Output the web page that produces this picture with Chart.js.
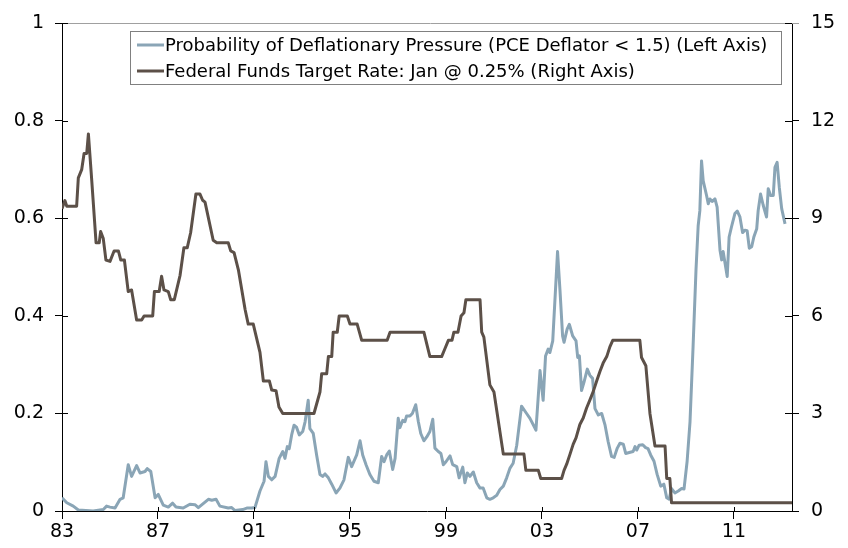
<!DOCTYPE html>
<html>
<head>
<meta charset="utf-8">
<script src="https://cdn.jsdelivr.net/npm/chart.js@4.4.0/dist/chart.umd.min.js"></script>
<style>
  html, body { margin: 0; padding: 0; background: #fff; }
  #wrap { width: 848px; height: 548px; }
</style>
</head>
<body>
<div id="wrap"><canvas id="chart" width="848" height="548"></canvas></div>
<script>
// ─── Data ────────────────────────────────────────────────────────
const PROB_LABEL = 'Probability of Deflationary Pressure (PCE Deflator < 1.5) (Left Axis)';
const FED_LABEL  = 'Federal Funds Target Rate: Jan @ 0.25% (Right Axis)';

const tickYears = [1983, 1987, 1991, 1995, 1999, 2003, 2007, 2011];

const probYears = [
  1983.00,1983.20,1983.47,1983.68,1984.30,1984.72,1984.86,1985.00,1985.21,1985.42,1985.55,1985.76,1985.90,1986.11,1986.25,1986.46,1986.55,1986.70,1986.88,
  1987.01,1987.22,1987.43,1987.61,1987.75,1988.05,1988.33,1988.54,1988.68,1989.10,1989.24,1989.42,1989.58,1989.93,1990.07,1990.21,1990.53,1990.70,1990.90,
  1991.04,1991.25,1991.42,1991.50,1991.60,1991.74,1991.88,1992.05,1992.20,1992.29,1992.39,1992.47,1992.57,1992.67,1992.77,1992.89,1993.03,1993.13,1993.26,1993.33,1993.47,1993.61,1993.75,1993.86,1993.96,1994.10,1994.24,1994.42,1994.58,1994.75,1994.93,
  1995.07,1995.28,1995.42,1995.53,1995.67,1995.83,1996.00,1996.18,1996.32,1996.42,1996.53,1996.64,1996.78,1996.88,1997.01,1997.08,1997.20,1997.29,1997.36,1997.50,1997.60,1997.74,1997.85,1997.95,1998.08,1998.20,1998.33,1998.45,1998.54,1998.68,1998.79,1998.89,
  1999.00,1999.17,1999.28,1999.45,1999.55,1999.70,1999.79,1999.89,2000.00,2000.14,2000.28,2000.42,2000.55,2000.70,2000.83,2000.97,2001.11,2001.25,2001.39,2001.53,2001.67,2001.80,2001.95,2002.15,2002.36,2002.50,2002.75,2002.92,
  2003.05,2003.15,2003.26,2003.33,2003.45,2003.65,2003.75,2003.86,2003.92,2004.05,2004.14,2004.28,2004.42,2004.49,2004.56,2004.65,2004.75,2004.89,2005.00,2005.11,2005.21,2005.35,2005.49,2005.63,2005.76,2005.90,2006.01,2006.14,2006.25,2006.39,2006.49,2006.64,2006.80,2006.88,2006.95,
  2007.05,2007.20,2007.32,2007.42,2007.53,2007.67,2007.80,2007.95,2008.08,2008.20,2008.30,2008.40,2008.54,2008.68,2008.82,2008.92,2009.05,2009.17,2009.30,2009.42,2009.51,2009.58,2009.65,2009.72,2009.86,2009.93,2010.00,2010.10,2010.21,2010.30,2010.42,2010.49,2010.55,2010.63,2010.72,2010.80,2010.90,
  2011.04,2011.14,2011.25,2011.36,2011.46,2011.55,2011.64,2011.74,2011.83,2011.95,2012.01,2012.11,2012.22,2012.36,2012.43,2012.53,2012.64,2012.71,2012.80,2012.89,2012.99,2013.13
];
const probValues = [
  0.027,0.017,0.010,0.002,0.000,0.003,0.010,0.008,0.006,0.024,0.027,0.095,0.071,0.093,0.078,0.081,0.087,0.081,0.027,
  0.034,0.012,0.008,0.016,0.008,0.006,0.014,0.013,0.007,0.024,0.022,0.024,0.010,0.006,0.007,0.001,0.003,0.006,0.006,
  0.007,0.041,0.061,0.101,0.071,0.064,0.071,0.108,0.122,0.108,0.132,0.128,0.156,0.176,0.172,0.156,0.163,0.183,0.227,0.169,0.159,0.115,0.075,0.071,0.076,0.068,0.055,0.037,0.047,0.064,0.110,
  0.091,0.115,0.144,0.115,0.095,0.075,0.061,0.058,0.112,0.101,0.115,0.123,0.085,0.108,0.190,0.171,0.186,0.183,0.195,0.195,0.200,0.218,0.183,0.159,0.144,0.152,0.163,0.188,0.129,0.122,0.118,0.095,
  0.101,0.113,0.095,0.091,0.068,0.090,0.058,0.078,0.071,0.080,0.058,0.047,0.047,0.027,0.024,0.027,0.032,0.044,0.051,0.068,0.088,0.098,0.135,0.215,0.200,0.190,0.166,0.288,
  0.227,0.318,0.332,0.325,0.349,0.532,0.454,0.359,0.346,0.373,0.383,0.359,0.349,0.315,0.318,0.247,0.264,0.291,0.278,0.272,0.210,0.197,0.200,0.176,0.142,0.112,0.110,0.129,0.139,0.137,0.118,0.120,0.122,0.132,0.125,
  0.135,0.136,0.130,0.128,0.115,0.102,0.075,0.051,0.055,0.027,0.024,0.046,0.037,0.041,0.046,0.045,0.102,0.183,0.340,0.495,0.585,0.616,0.718,0.677,0.647,0.630,0.640,0.635,0.640,0.623,0.535,0.515,0.532,0.508,0.481,0.562,0.583,
  0.610,0.615,0.603,0.571,0.576,0.575,0.539,0.542,0.562,0.579,0.616,0.650,0.627,0.603,0.661,0.647,0.647,0.705,0.715,0.664,0.620,0.589
];

const fedYears = [
  1983.00,1983.12,1983.20,1983.61,1983.68,1983.82,1983.92,1984.03,1984.10,1984.24,1984.42,1984.55,1984.61,1984.72,1984.83,1985.00,1985.17,1985.35,1985.45,1985.60,1985.76,1985.90,1986.11,1986.32,1986.42,1986.78,1986.85,
  1987.05,1987.15,1987.25,1987.43,1987.53,1987.68,1987.92,1988.08,1988.22,1988.36,1988.58,1988.75,1988.86,1988.96,1989.30,1989.45,1989.93,1990.03,1990.17,1990.35,1990.63,1990.76,1990.97,
  1991.25,1991.39,1991.64,1991.74,1991.92,1992.04,1992.20,1993.50,1993.75,1993.82,1994.03,1994.10,1994.24,1994.30,1994.47,1994.55,1994.89,
  1995.00,1995.30,1995.49,1996.55,1996.67,1998.08,1998.33,1998.82,1998.96,1999.10,1999.25,1999.33,1999.50,1999.63,1999.75,1999.83,2000.42,2000.49,2000.58,2000.83,2001.00,2001.39,2002.25,2002.33,2002.85,2002.95,
  2003.82,2003.92,2004.03,2004.17,2004.30,2004.42,2004.58,2004.72,2004.86,2005.00,2005.14,2005.28,2005.42,2005.55,2005.70,2005.83,2005.95,2007.08,2007.15,2007.33,2007.50,2007.71,2008.13,2008.20,2008.33,2008.40,2013.42
];
const fedRates = [
  9.30,9.55,9.375,9.375,10.25,10.5,11.0,11.0,11.6,10.16,8.25,8.25,8.6,8.38,7.72,7.68,8.0,8.0,7.72,7.72,6.75,6.8,5.875,5.875,6.0,6.0,6.75,
  6.75,7.22,6.8,6.75,6.5,6.5,7.25,8.1,8.1,8.56,9.75,9.75,9.56,9.5,8.33,8.25,8.25,8.0,7.95,7.42,6.2,5.75,5.75,
  4.88,4.0,4.0,3.72,3.7,3.2,3.0,3.0,3.66,4.22,4.22,4.75,4.75,5.5,5.5,6.0,6.0,
  5.75,5.75,5.25,5.25,5.5,5.5,4.75,4.75,5.0,5.25,5.25,5.5,5.5,6.0,6.1,6.5,6.5,5.5,5.35,3.88,3.66,1.75,1.75,1.25,1.25,1.0,
  1.0,1.25,1.44,1.75,2.05,2.25,2.66,2.86,3.17,3.42,3.68,4.0,4.3,4.55,4.75,5.05,5.25,5.25,4.72,4.47,3.0,2.0,2.0,1.0,1.0,0.25,0.25
];

// ─── Plugins ─────────────────────────────────────────────────────
const frame = {
  id: 'frame',
  afterDraw(chart) {
    const { ctx, chartArea: a } = chart;
    const { x, y, y1 } = chart.scales;
    ctx.save();
    ctx.lineWidth = 1;
    // top edge
    ctx.strokeStyle = '#a0a0a0';
    ctx.beginPath();
    ctx.moveTo(a.left, Math.round(a.top) + 0.5);
    ctx.lineTo(a.right + 7, Math.round(a.top) + 0.5);
    ctx.stroke();
    // inner halves of the ticks (ticks cross the axis lines)
    ctx.strokeStyle = '#000';
    ctx.beginPath();
    y.ticks.forEach((t, i) => {
      const py = Math.round(y.getPixelForTick(i)) + 0.5;
      ctx.moveTo(a.left, py); ctx.lineTo(a.left + 6, py);
    });
    y1.ticks.forEach((t, i) => {
      const py = Math.round(y1.getPixelForTick(i)) + 0.5;
      ctx.moveTo(a.right, py); ctx.lineTo(a.right - 7, py);
    });
    x.ticks.forEach((t, i) => {
      const px = Math.round(x.getPixelForTick(i)) + 0.5;
      ctx.moveTo(px, a.bottom); ctx.lineTo(px, a.bottom - 4);
    });
    ctx.stroke();
    ctx.restore();
  }
};

const boxLegend = {
  id: 'boxLegend',
  afterDraw(chart) {
    const { ctx } = chart;
    const left = 130, top = 31, right = 781, bottom = 84;
    ctx.save();
    ctx.fillStyle = '#fff';
    ctx.fillRect(left, top, right - left, bottom - top);
    ctx.strokeStyle = '#808080';
    ctx.lineWidth = 1;
    ctx.strokeRect(left + 0.5, top + 0.5, right - left, bottom - top);
    ctx.font = '18px "DejaVu Sans"';
    ctx.textBaseline = 'middle';
    ctx.fillStyle = '#000';
    const rows = [45, 71];
    chart.data.datasets.forEach((ds, i) => {
      const ry = rows[i];
      ctx.strokeStyle = ds.borderColor;
      ctx.lineWidth = 3;
      ctx.beginPath();
      ctx.moveTo(137, ry); ctx.lineTo(164, ry);
      ctx.stroke();
      ctx.fillText(ds.label, 165, ry + 1);
    });
    ctx.restore();
  }
};

// ─── Chart ───────────────────────────────────────────────────────
Chart.defaults.font.family = '"DejaVu Sans", Verdana, sans-serif';
Chart.defaults.color = '#000';

const tickFont = { size: 19 };
const axisGrid = { drawOnChartArea: false, color: '#000', tickColor: '#000', tickLength: 7 };

new Chart(document.getElementById('chart').getContext('2d'), {
  type: 'line',
  data: {
    datasets: [
      {
        label: PROB_LABEL,
        data: probYears.map((yr, i) => ({ x: yr, y: probValues[i] })),
        yAxisID: 'y',
        borderColor: '#8aa5b6',
        borderWidth: 3,
        order: 2
      },
      {
        label: FED_LABEL,
        data: fedYears.map((yr, i) => ({ x: yr, y: fedRates[i] })),
        yAxisID: 'y1',
        borderColor: '#5c5048',
        borderWidth: 3,
        order: 1
      }
    ]
  },
  options: {
    responsive: false,
    animation: false,
    layout: { padding: { top: 18, left: 0, right: 0, bottom: 0 } },
    elements: {
      point: { radius: 0 },
      line: { tension: 0, borderJoinStyle: 'round', borderCapStyle: 'butt' }
    },
    plugins: { legend: { display: false }, tooltip: { enabled: false } },
    scales: {
      x: {
        type: 'linear',
        min: 1983,
        max: 2013.42,
        grid: { ...axisGrid, tickLength: 8 },
        border: { color: '#000', width: 1 },
        afterBuildTicks: s => { s.ticks = tickYears.map(v => ({ value: v })); },
        ticks: {
          font: tickFont,
          padding: 2,
          maxRotation: 0,
          autoSkip: false,
          callback: v => String(v % 100).padStart(2, '0')
        },
        afterFit: s => { s.height = 37; }
      },
      y: {
        position: 'left',
        min: 0,
        max: 1,
        grid: axisGrid,
        border: { color: '#000', width: 1 },
        ticks: {
          font: tickFont,
          stepSize: 0.2,
          padding: 11,
          callback: v => String(Math.round(v * 10) / 10)
        },
        afterFit: s => { s.width = 62; }
      },
      y1: {
        position: 'right',
        min: 0,
        max: 15,
        grid: axisGrid,
        border: { color: '#000', width: 1 },
        ticks: { font: tickFont, stepSize: 3, padding: 12 },
        afterFit: s => { s.width = 56; }
      }
    }
  },
  plugins: [frame, boxLegend]
});
</script>
</body>
</html>
